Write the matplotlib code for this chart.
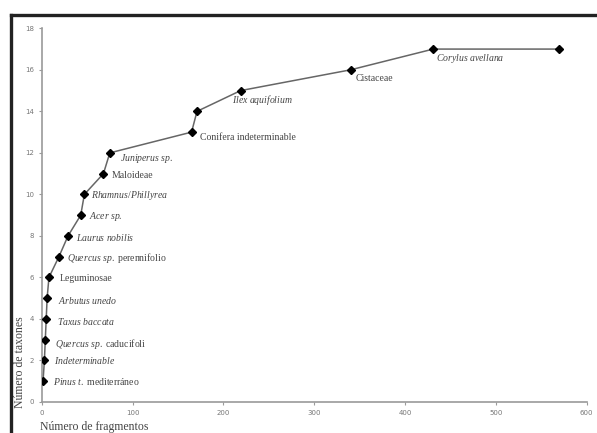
import matplotlib
matplotlib.use("Agg")
import matplotlib.pyplot as plt
from matplotlib.lines import Line2D

# Curva de acumulación: número de fragmentos vs número de taxones
fragmentos = [1.5, 3, 4, 5, 6, 8, 19, 29, 43, 47, 68, 75, 165, 171, 219, 340, 431, 570]
taxones = [1, 2, 3, 4, 5, 6, 7, 8, 9, 10, 11, 12, 13, 14, 15, 16, 17, 17]

# etiquetas (None = sin etiqueta)
etiquetas = [
    r"$\mathit{Pinus\ t.}$ mediterráneo",
    r"$\mathit{Indeterminable}$",
    r"$\mathit{Quercus\ sp.}$ caducifoli",
    r"$\mathit{Taxus\ baccata}$",
    r"$\mathit{Arbutus\ unedo}$",
    "Leguminosae",
    r"$\mathit{Quercus\ sp.}$ perennifolio",
    r"$\mathit{Laurus\ nobilis}$",
    r"$\mathit{Acer\ sp.}$",
    r"$\mathit{Rhamnus/Phillyrea}$",
    "Maloideae",
    r"$\mathit{Juniperus\ sp.}$",
    "Conifera indeterminable",
    None,
    r"$\mathit{Ilex\ aquifolium}$",
    "Cistaceae",
    r"$\mathit{Corylus\ avellana}$",
    None,
]
# desplazamiento de cada etiqueta en puntos (dx, dy)
offsets = [(7, 0), (7, 0), (7, -3), (8, -2), (8, -2), (8, -1), (6, -1), (6, -1),
           (6, -1), (5, -1), (6, -1), (7, -4), (6, -4), None, (-6, -7), (4, -6),
           (2, -7), None]

plt.rcParams["mathtext.fontset"] = "custom"
plt.rcParams["mathtext.rm"] = "Liberation Serif"
plt.rcParams["mathtext.it"] = "Liberation Serif:italic"

GRIS = "#9a9a9a"
TEXTO = "#444444"

fig = plt.figure(figsize=(5.97, 4.33), dpi=100)
ax = fig.add_axes([0.0698, 0.0716, 0.913, 0.863])

ax.plot(fragmentos, taxones, color="#666666", lw=1.1, marker="D",
        markersize=4, markerfacecolor="black", markeredgecolor="black", zorder=3)

for x, y, txt, off in zip(fragmentos, taxones, etiquetas, offsets):
    if txt is None:
        continue
    ax.annotate(txt, (x, y), xytext=off, textcoords="offset points",
                ha="left", va="center", fontsize=7, color=TEXTO,
                family="Liberation Serif")

ax.set_xlim(0, 600)
ax.set_ylim(0, 18)
ax.set_xticks(range(0, 601, 100))
ax.set_yticks(range(0, 19, 2))
for s in ["top", "right"]:
    ax.spines[s].set_visible(False)
for s in ["left", "bottom"]:
    ax.spines[s].set_color(GRIS)
    ax.spines[s].set_linewidth(1.2)
ax.tick_params(direction="out", length=2.5, width=0.8, color=GRIS,
               labelsize=5, labelcolor="#777777", pad=3)

fig.text(0.0335, 0.163, "Número de taxones", rotation=90, ha="center", va="center",
         fontsize=8.5, color=TEXTO, family="Liberation Serif")
fig.text(0.067, 0.014, "Número de fragmentos", ha="left", va="center",
         fontsize=8.5, color=TEXTO, family="Liberation Serif")

# marco oscuro de la captura (arriba e izquierda)
fig.add_artist(Line2D([0.0176, 1.0], [0.9665, 0.9665], transform=fig.transFigure,
                      color="#222222", lw=2.4))
fig.add_artist(Line2D([0.0176, 0.0176], [0.0, 0.9665], transform=fig.transFigure,
                      color="#222222", lw=2.4))

fig.savefig("out.png", dpi=100, facecolor="white")
